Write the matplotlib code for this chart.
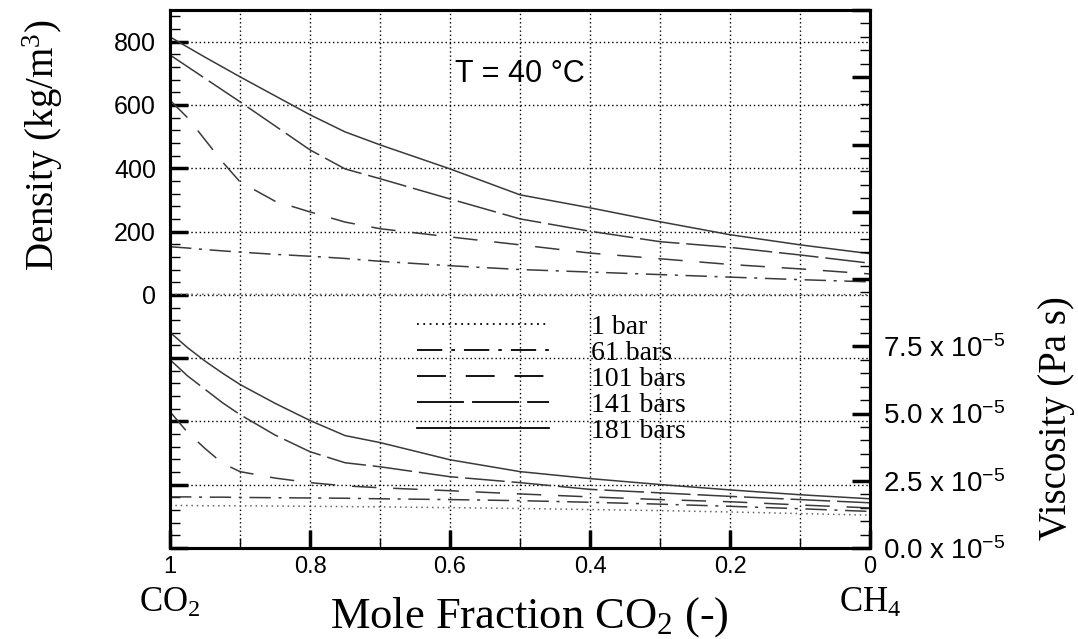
import matplotlib
matplotlib.use("Agg")
import matplotlib.pyplot as plt
from matplotlib.ticker import MultipleLocator, FuncFormatter

plt.rcParams['font.family'] = ['Liberation Sans', 'DejaVu Sans']
plt.rcParams['mathtext.default'] = 'regular'

SERIF = ['Liberation Serif', 'DejaVu Serif']

# mole fraction of CO2 (1 = pure CO2, 0 = pure CH4)
x_co2 = [1.0, 0.975, 0.95, 0.925, 0.9, 0.85, 0.8, 0.75, 0.7, 0.6, 0.5, 0.4, 0.3, 0.2, 0.1, 0.0]

pressure_labels = ['1 bar', '61 bars', '101 bars', '141 bars', '181 bars']

# density, kg/m3
dens_1 = [1.7, 1.66, 1.62, 1.58, 1.55, 1.48, 1.41, 1.34, 1.27, 1.13, 0.99, 0.88, 0.8, 0.73, 0.67, 0.62]
dens_61 = [152, 148, 143, 139, 135, 128, 122, 115, 106, 92, 80, 72, 64, 56, 48, 41]
dens_101 = [615, 560, 490, 420, 357, 296, 262, 230, 209, 183, 158, 132, 114, 96, 82, 66]
dens_141 = [758, 721, 684, 647, 610, 534, 458, 398, 367, 303, 240, 201, 168, 150, 126, 100]
dens_181 = [815, 783, 751, 720, 689, 629, 569, 515, 474, 398, 316, 275, 231, 190, 158, 130]

# viscosity, 1e-5 Pa s
visc_1 = [1.58, 1.58, 1.57, 1.57, 1.57, 1.56, 1.55, 1.54, 1.53, 1.50, 1.47, 1.43, 1.39, 1.34, 1.28, 1.22]
visc_61 = [1.90, 1.90, 1.89, 1.89, 1.88, 1.87, 1.86, 1.85, 1.83, 1.80, 1.76, 1.70, 1.63, 1.55, 1.46, 1.36]
visc_101 = [5.07, 4.3, 3.7, 3.15, 2.84, 2.6, 2.43, 2.31, 2.24, 2.13, 2.01, 1.9, 1.8, 1.72, 1.6, 1.49]
visc_141 = [7.0, 6.4, 5.9, 5.4, 4.96, 4.2, 3.58, 3.17, 3.02, 2.65, 2.43, 2.18, 2.05, 1.92, 1.8, 1.68]
visc_181 = [8.02, 7.45, 6.95, 6.5, 6.08, 5.38, 4.74, 4.18, 3.92, 3.28, 2.84, 2.58, 2.36, 2.16, 1.98, 1.83]

densities = [dens_1, dens_61, dens_101, dens_141, dens_181]
viscosities = [visc_1, visc_61, visc_101, visc_141, visc_181]

styles = [(0, (1, 2.5)), (0, (14, 5, 2, 5)), (0, (16, 11)), (0, (26, 4.5)), '-']
colors = ['#666666', '#3a3a3a', '#3a3a3a', '#3a3a3a', '#3a3a3a']

fig = plt.figure(figsize=(10.78, 6.39), dpi=100)
ax = fig.add_axes([0.1577, 0.1424, 0.6494, 0.8419])
ax2 = ax.twinx()

for i in range(len(pressure_labels)):
    ax.plot(x_co2, densities[i], color=colors[i], linestyle=styles[i], lw=1.1,
            label=pressure_labels[i])
    ax2.plot(x_co2, viscosities[i], color=colors[i], linestyle=styles[i], lw=1.1)

ax.set_xlim(1, 0)
ax.set_ylim(-800, 900)
ax2.set_ylim(0, 20)

ax.xaxis.set_major_locator(MultipleLocator(0.2))
ax.xaxis.set_minor_locator(MultipleLocator(0.1))
ax.xaxis.set_major_formatter(FuncFormatter(lambda v, p: f"{round(v, 2) + 0.0:g}"))
ax.yaxis.set_major_locator(MultipleLocator(200))
ax.yaxis.set_minor_locator(MultipleLocator(40))
ax.yaxis.set_major_formatter(FuncFormatter(lambda v, p: f"{v:.0f}" if v > -1 else ""))
ax2.yaxis.set_major_locator(MultipleLocator(2.5))
ax2.yaxis.set_minor_locator(MultipleLocator(0.5))
ax2.yaxis.set_major_formatter(FuncFormatter(lambda v, p: f"{v:.1f} x 10$^{{-5}}$" if v < 8 else ""))

dots = (0, (1, 2))
ax.xaxis.grid(True, which='both', color='k', linestyle=dots, linewidth=1)
ax.yaxis.grid(True, which='major', color='k', linestyle=dots, linewidth=1)

ax.tick_params(which='both', direction='in', top=False, right=False)
ax.tick_params(which='major', length=13, width=2.5)
ax.tick_params(which='minor', length=7, width=1)
ax.tick_params(axis='y', labelsize=18, pad=10)
ax.tick_params(axis='x', labelsize=17, pad=6)
ax2.tick_params(which='both', direction='in')
ax2.tick_params(which='major', length=13, width=2.5, labelsize=20, pad=9)
ax2.tick_params(which='minor', length=7, width=1)

for a in (ax, ax2):
    for sp in a.spines.values():
        sp.set_linewidth(2.2)

ax.set_ylabel('Density (kg/m$^3$)', family=SERIF, fontsize=28, va='baseline')
ax.yaxis.set_label_coords(-0.165, 0.749)
ax2.set_ylabel('Viscosity (Pa s)', family=SERIF, fontsize=28, va='baseline')
ax2.yaxis.set_label_coords(1.28, 0.242)
ax.set_xlabel('Mole Fraction CO$_2$ (-)', family=SERIF, fontsize=32, va='baseline')
ax.xaxis.set_label_coords(0.514, -0.147)

ax.text(1.0, -0.119, 'CO$_2$', transform=ax.get_xaxis_transform(), ha='center',
        va='baseline', family=SERIF, fontsize=25)
ax.text(0.0, -0.119, 'CH$_4$', transform=ax.get_xaxis_transform(), ha='center',
        va='baseline', family=SERIF, fontsize=25)
ax.text(0.5, 0.866, 'T = 40 °C', transform=ax.transAxes, ha='center', va='baseline',
        fontsize=22)

leg = ax.legend(loc='upper left', bbox_to_anchor=(0.353, 0.434), frameon=False,
                prop={'family': SERIF, 'size': 20}, handlelength=4.75, handletextpad=1.5,
                labelspacing=0.02, borderpad=0, borderaxespad=0)
for h in leg.get_lines():
    h.set_color('black')
    h.set_linewidth(1.3)

fig.savefig('out.png', dpi=100)
